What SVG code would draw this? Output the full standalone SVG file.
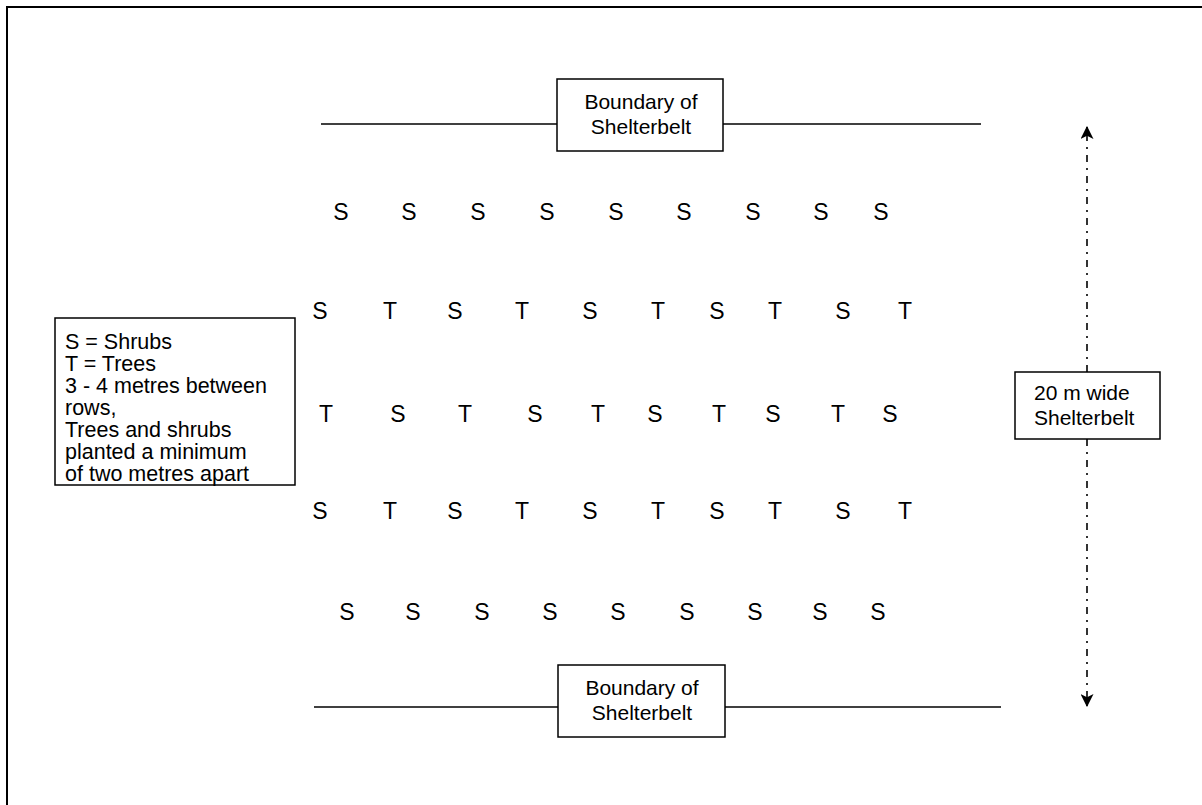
<svg xmlns="http://www.w3.org/2000/svg" width="1202" height="805" viewBox="0 0 1202 805">
<style>
.box{fill:#fff;stroke:#000;stroke-width:1.5}
.ln{stroke:#000;stroke-width:1.5;fill:none}
.t{font-family:"Liberation Sans",Arial,sans-serif;font-size:21px;fill:#000}
.lg{font-family:"Liberation Sans",Arial,sans-serif;font-size:21.5px;fill:#000}
.c{text-anchor:middle}
.r{font-family:"Liberation Sans",Arial,sans-serif;font-size:23px;fill:#000;text-anchor:middle}
.dd{stroke:#000;stroke-width:1.6;fill:none;stroke-dasharray:7 6 2 6}
</style>
<defs>
<marker id="ah" viewBox="0 0 12 12" refX="11" refY="6" markerWidth="13" markerHeight="13" markerUnits="userSpaceOnUse" orient="auto">
<path d="M0,0 L12,6 L0,12 L3,6 Z" fill="#000"/>
</marker>
</defs>
<rect x="7" y="7" width="1230" height="840" fill="#fff" stroke="#000" stroke-width="2"/>
<g id="connectors">
<line class="ln" x1="321" y1="124" x2="557" y2="124"/>
<line class="ln" x1="723" y1="124" x2="981" y2="124"/>
<line class="ln" x1="314" y1="707" x2="558" y2="707"/>
<line class="ln" x1="725" y1="707" x2="1001" y2="707"/>
<line class="dd" x1="1087" y1="372" x2="1087" y2="127" marker-end="url(#ah)"/>
<line class="dd" x1="1087" y1="439" x2="1087" y2="706" marker-end="url(#ah)"/>
</g>
<g id="boundary-top">
<rect class="box" x="557" y="79" width="166" height="72"/>
<text class="t c" x="641" y="109">Boundary of</text>
<text class="t c" x="641" y="134">Shelterbelt</text>
</g>
<g id="boundary-bottom">
<rect class="box" x="558" y="665" width="167" height="72"/>
<text class="t c" x="642" y="695">Boundary of</text>
<text class="t c" x="642" y="720">Shelterbelt</text>
</g>
<g id="width-label">
<rect class="box" x="1015" y="372" width="145" height="67"/>
<text class="t" x="1034" y="400">20 m wide</text>
<text class="t" x="1034" y="425">Shelterbelt</text>
</g>
<g id="legend">
<rect class="box" x="55" y="318" width="240" height="167"/>
<text class="lg" x="65" y="349">S = Shrubs</text>
<text class="lg" x="65" y="371">T = Trees</text>
<text class="lg" x="65" y="393">3 - 4 metres between</text>
<text class="lg" x="65" y="415">rows,</text>
<text class="lg" x="65" y="437">Trees and shrubs</text>
<text class="lg" x="65" y="459">planted a minimum</text>
<text class="lg" x="65" y="481">of two metres apart</text>
</g>
<g id="row1">
<text class="r" x="341" y="220">S</text><text class="r" x="409" y="220">S</text><text class="r" x="478" y="220">S</text><text class="r" x="547" y="220">S</text><text class="r" x="616" y="220">S</text><text class="r" x="684" y="220">S</text><text class="r" x="753" y="220">S</text><text class="r" x="821" y="220">S</text><text class="r" x="881" y="220">S</text>
</g>
<g id="row2">
<text class="r" x="320" y="319">S</text><text class="r" x="390" y="319">T</text><text class="r" x="455" y="319">S</text><text class="r" x="522" y="319">T</text><text class="r" x="590" y="319">S</text><text class="r" x="658" y="319">T</text><text class="r" x="717" y="319">S</text><text class="r" x="775" y="319">T</text><text class="r" x="843" y="319">S</text><text class="r" x="905" y="319">T</text>
</g>
<g id="row3">
<text class="r" x="326" y="422">T</text><text class="r" x="398" y="422">S</text><text class="r" x="465" y="422">T</text><text class="r" x="535" y="422">S</text><text class="r" x="598" y="422">T</text><text class="r" x="655" y="422">S</text><text class="r" x="719" y="422">T</text><text class="r" x="773" y="422">S</text><text class="r" x="838" y="422">T</text><text class="r" x="890" y="422">S</text>
</g>
<g id="row4">
<text class="r" x="320" y="519">S</text><text class="r" x="390" y="519">T</text><text class="r" x="455" y="519">S</text><text class="r" x="522" y="519">T</text><text class="r" x="590" y="519">S</text><text class="r" x="658" y="519">T</text><text class="r" x="717" y="519">S</text><text class="r" x="775" y="519">T</text><text class="r" x="843" y="519">S</text><text class="r" x="905" y="519">T</text>
</g>
<g id="row5">
<text class="r" x="347" y="620">S</text><text class="r" x="413" y="620">S</text><text class="r" x="482" y="620">S</text><text class="r" x="550" y="620">S</text><text class="r" x="618" y="620">S</text><text class="r" x="687" y="620">S</text><text class="r" x="755" y="620">S</text><text class="r" x="820" y="620">S</text><text class="r" x="878" y="620">S</text>
</g>
</svg>
